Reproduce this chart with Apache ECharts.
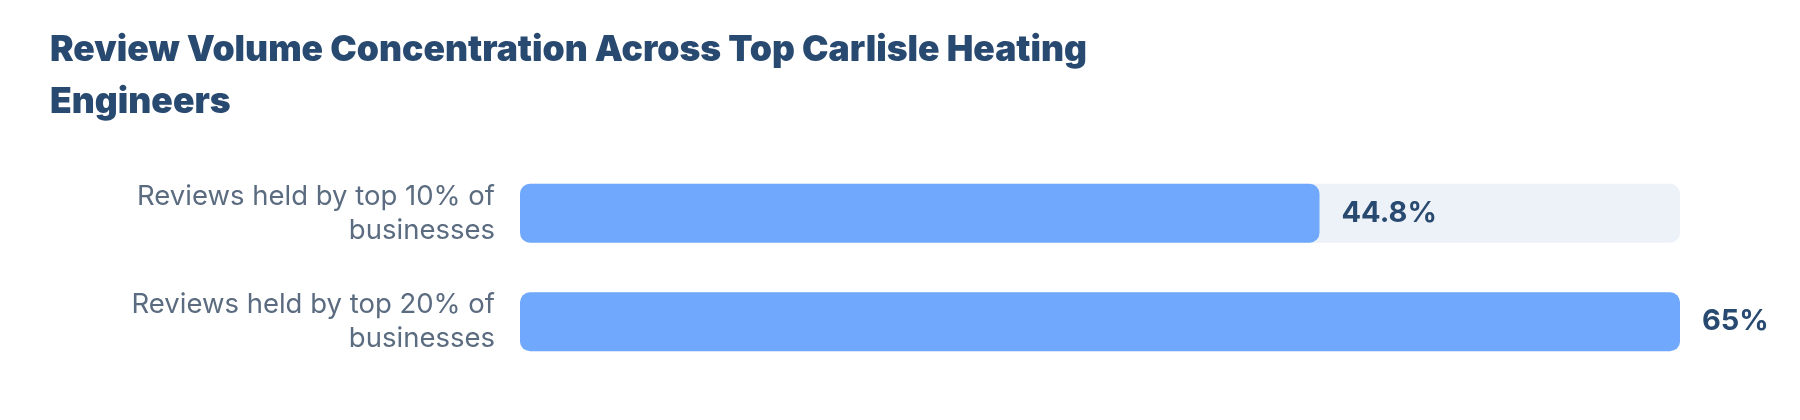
<!DOCTYPE html>
<html>
<head>
<meta charset="utf-8">
<script src="https://cdn.jsdelivr.net/npm/echarts@6/dist/echarts.min.js"></script>
<style>
  html, body { margin: 0; padding: 0; background: #ffffff; }
  #chart { width: 1800px; height: 420px; }
</style>
</head>
<body>
<div id="chart"></div>
<script>
const titleText = 'Review Volume Concentration Across Top Carlisle Heating\nEngineers';
const categories = ['Reviews held by top 10% of businesses', 'Reviews held by top 20% of businesses'];
const values = [44.8, 65];
const valueLabels = ['44.8%', '65%'];

const chart = echarts.init(document.getElementById('chart'));
chart.setOption({
  backgroundColor: '#ffffff',
  animation: false,
  title: {
    text: titleText,
    left: 45,
    top: 19,
    textStyle: {
      fontFamily: 'Inter',
      fontWeight: 900,
      fontSize: 35.5,
      lineHeight: 52,
      color: '#294a70'
    }
  },
  grid: { left: 520, right: 120, top: 159, bottom: 44, containLabel: false },
  xAxis: {
    type: 'value',
    min: 0,
    max: 65,
    show: false
  },
  yAxis: {
    type: 'category',
    inverse: true,
    data: categories,
    axisLine: { show: false },
    axisTick: { show: false },
    splitLine: { show: false },
    axisLabel: {
      margin: 25,
      align: 'right',
      formatter: (v) => v.replace(/ (businesses)$/, '\n$1'),
      fontFamily: 'Inter',
      fontSize: 27.5,
      lineHeight: 34,
      color: '#5c6c80'
    }
  },
  series: [{
    type: 'bar',
    data: values,
    barWidth: 59,
    showBackground: true,
    backgroundStyle: { color: '#edf2f9', borderRadius: 10 },
    itemStyle: { color: '#6fa8fc', borderRadius: 10 },
    label: {
      show: true,
      position: 'right',
      distance: 22,
      formatter: (p) => valueLabels[p.dataIndex],
      fontFamily: 'Inter',
      fontWeight: 700,
      fontSize: 29,
      color: '#294a70'
    }
  }]
});
</script>
</body>
</html>
